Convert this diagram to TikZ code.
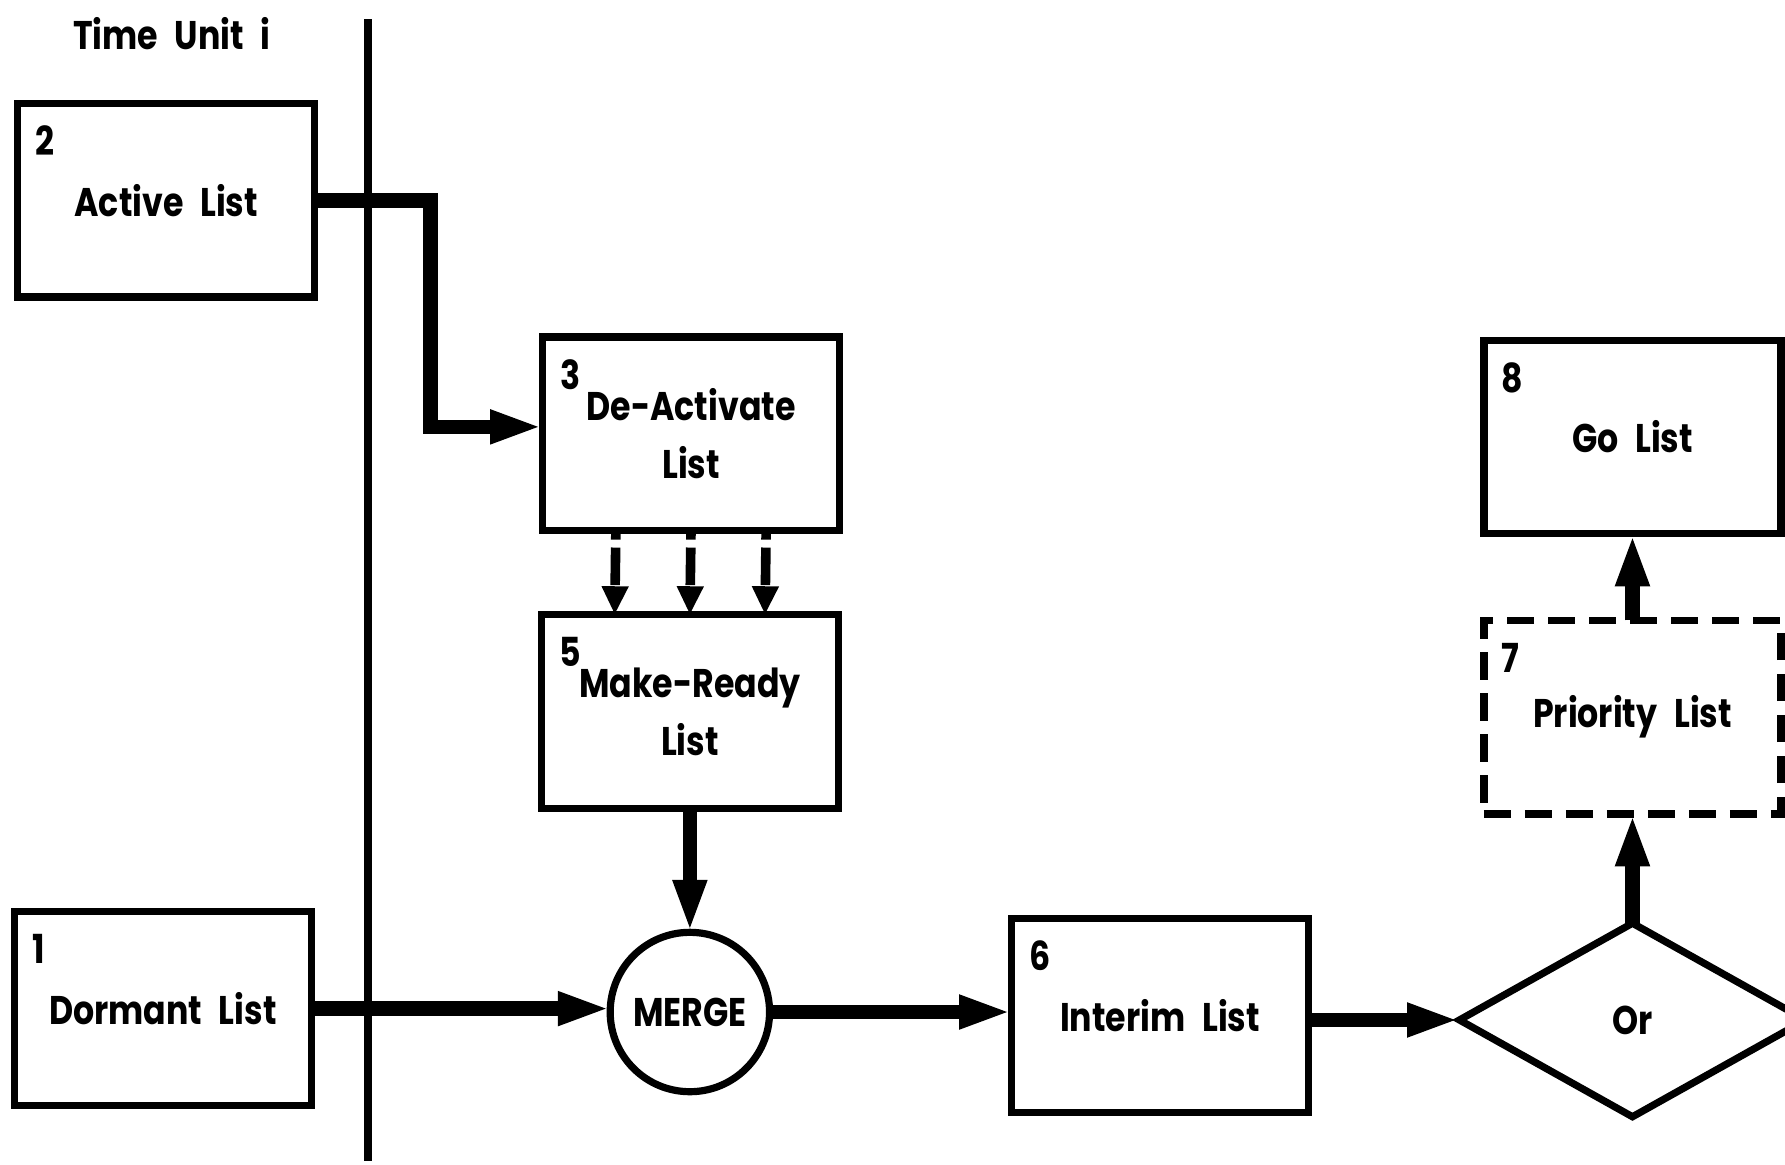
\documentclass[tikz,border=0pt]{standalone}
\usepackage{fontspec}
\setmainfont{Poppins}[FakeStretch=0.83]
\usetikzlibrary{arrows.meta, positioning, shapes.geometric}
\newcommand{\listfont}{\fontsize{10}{14.5}\selectfont\bfseries\spaceskip=0.42em}

\begin{document}
\begin{tikzpicture}[
    listbox/.style={
        draw, line width=1.8pt, minimum width=2.61cm, minimum height=1.70cm,
        align=center, font=\listfont, inner sep=2pt, outer sep=0pt
    },
    pendbox/.style={dash pattern=on 0.24cm off 0.12cm},
    mergenode/.style={
        draw, circle, line width=1.8pt, minimum size=1.40cm,
        font=\listfont, inner sep=0pt, outer sep=0pt
    },
    orgate/.style={
        draw, diamond, line width=1.8pt, minimum width=3.04cm,
        minimum height=1.70cm, font=\listfont, inner sep=0pt, outer sep=0pt
    },
    num/.style={font=\listfont, inner sep=0pt},
    timeline/.style={line width=2pt},
    flow/.style={-{Triangle[length=4.6mm, width=2.7mm]}, line width=3.6pt},
    dflow/.style={-{Triangle[length=2.5mm, width=2.2mm]}, line width=2.4pt,
        dash pattern=on 0.33cm off 0.07cm, dash phase=0.25cm}
]

\useasboundingbox (0,0) rectangle (15.68,10.23);

% --- Time line ---
\node[font=\listfont] (tunit) at (1.51, 9.93) {Time Unit i};
\coordinate (ttop) at (3.23, 10.06);
\coordinate (tbot) at (3.23, 0.03);
\draw[timeline] (ttop) -- (tbot);

% --- Lists ---
\node[listbox] (active) at (1.46, 8.47) {Active List};
\node[listbox] (deact) at (6.07, 6.42) {De-Activate\\List};
\node[listbox] (ready) at (6.06, 3.98) {Make-Ready\\List};
\node[listbox] (dormant) at (1.43, 1.37) {Dormant List};
\node[mergenode] (merge) at (6.06, 1.34) {MERGE};
\node[listbox] (interim) at (10.19, 1.31) {Interim List};
\node[orgate] (orgate) at (14.34, 1.27) {Or};
\node[listbox, pendbox] (prio) at (14.34, 3.93) {Priority List};
\node[listbox] (golist) at (14.34, 6.39) {Go List};

% --- List numbers ---
\foreach \b/\n in {active/2, deact/3, ready/5, dormant/1, interim/6, prio/7, golist/8} {
    \node[num, below right=0.19cm and 0.15cm of \b.north west] (num\n) {\n};
}

% --- Connectors ---
\coordinate (bend) at (3.78, 8.47);
\draw[flow] (active.east) -- (bend) |- ([yshift=0.06cm]deact.west);
\foreach \dx in {-0.66, 0, 0.66} {
    \draw[dflow] ([xshift=\dx cm]deact.south) -- ([xshift=\dx cm]ready.north);
}
\draw[flow] (ready) -- (merge);
\draw[flow] (dormant.east) -- (dormant.east -| merge.west);
\draw[flow] (merge.east) -- (merge.east -| interim.west);
\draw[flow] (interim.east |- orgate.west) -- (orgate.west);
\draw[flow] (orgate.north) -- (prio.south);
\draw[flow] (prio.north) -- (golist.south);

\end{tikzpicture}
\end{document}
